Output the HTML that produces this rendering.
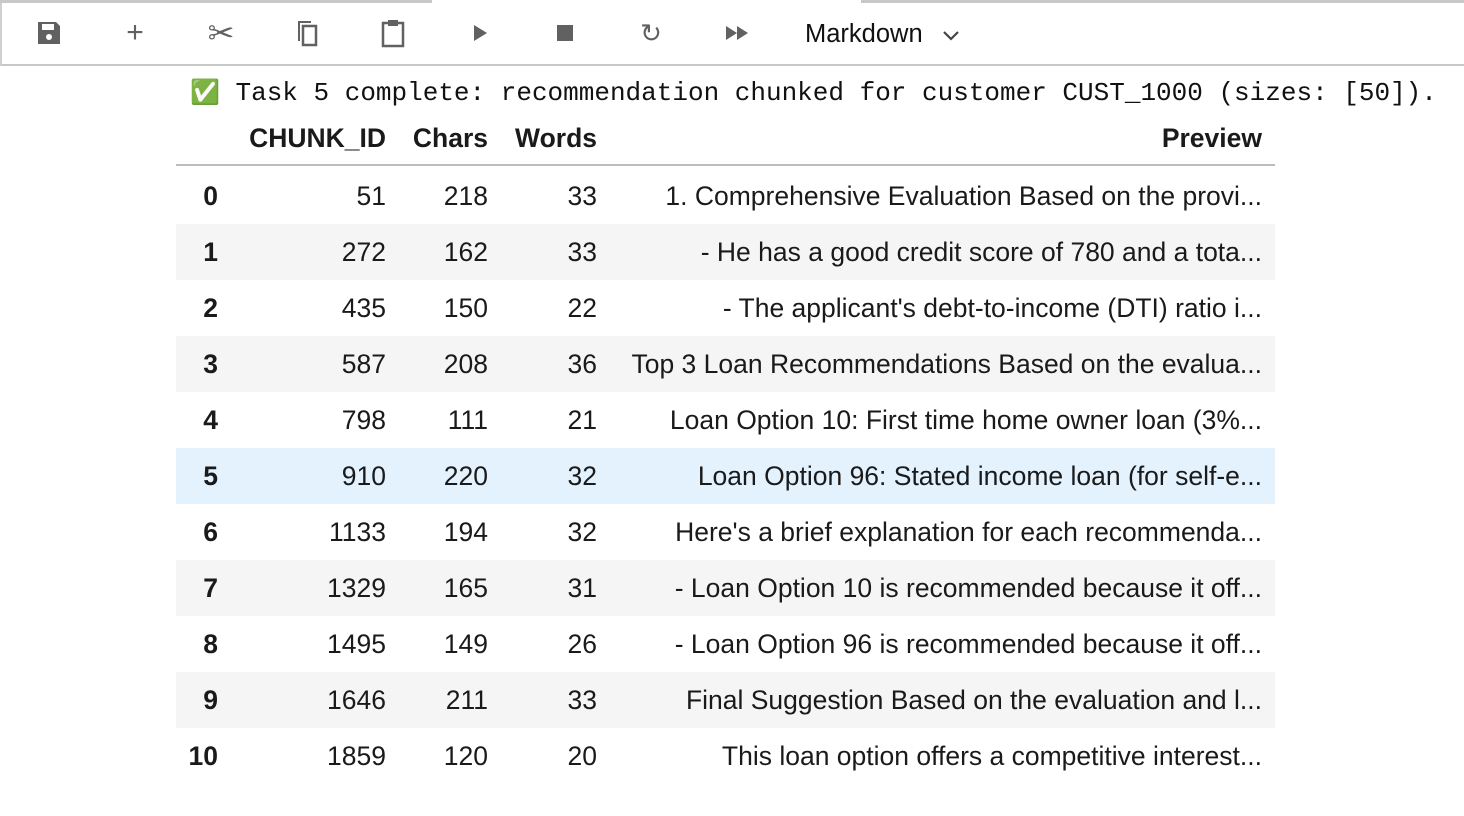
<!DOCTYPE html>
<html><head><meta charset="utf-8">
<style>
body{margin:0;width:1464px;height:816px;background:#fff;position:relative;overflow:hidden;font-family:"Liberation Sans",sans-serif;color:#1a1a1a}
.tb{position:absolute;left:0;top:0;width:1464px;height:66px;border-bottom:2px solid #c8c8c8;border-left:2px solid #d0d0d0;box-sizing:border-box}
.topline{position:absolute;top:0;height:3px;background:#c8c8c8}
.ic{position:absolute;top:18px;width:30px;height:30px;display:flex;align-items:center;justify-content:center;color:#616161;font-size:26px}
.out{position:absolute;left:190px;top:74px;font-family:"Liberation Mono",monospace;font-size:26px;white-space:pre;line-height:36px;color:#111}
.cell{position:absolute;font-size:26.5px;line-height:56px;white-space:nowrap;text-align:right}
.row{position:absolute;left:176px;width:1099px;height:56px}
.h{font-weight:bold}
</style></head><body>
<div class="tb"></div>
<div class="topline" style="left:0;width:432px"></div>
<div class="topline" style="left:861px;width:603px"></div>
<div class="ic" style="left:34px"><svg width="26" height="26" viewBox="0 0 26 26"><path d="M2 2h18l4 4v18H2z" fill="#616161"/><rect x="6" y="4" width="12" height="6" fill="#fff"/><circle cx="13" cy="17" r="3" fill="#fff"/></svg></div>
<div class="ic" style="left:120px;font-size:30px">+</div>
<div class="ic" style="left:206px;font-size:32px">✂</div>
<div class="ic" style="left:292px"><svg width="26" height="30" viewBox="0 0 26 30"><path d="M4 3h13v2H6v18H4z" fill="#616161"/><rect x="9" y="8" width="13" height="19" fill="none" stroke="#616161" stroke-width="2.5"/></svg></div>
<div class="ic" style="left:378px"><svg width="26" height="30" viewBox="0 0 26 30"><rect x="3" y="5" width="20" height="23" fill="none" stroke="#616161" stroke-width="2.5"/><rect x="8" y="2" width="10" height="6" fill="#616161"/></svg></div>
<div class="ic" style="left:465px"><svg width="18" height="20"><path d="M3 2l13 8-13 8z" fill="#616161"/></svg></div>
<div class="ic" style="left:550px"><svg width="18" height="18"><rect x="1" y="1" width="16" height="16" fill="#616161"/></svg></div>
<div class="ic" style="left:636px">↻</div>
<div class="ic" style="left:722px"><svg width="26" height="18"><path d="M2 2l11 7-11 7zM13 2l11 7-11 7z" fill="#616161"/></svg></div>
<div style="position:absolute;left:805px;top:17px;font-size:25.5px;line-height:34px;color:#111">Markdown <span style="display:inline-block;margin-left:12px"><svg width="18" height="12"><path d="M2 2l7 7 7-7" stroke="#444" stroke-width="2.2" fill="none"/></svg></span></div>

<div class="out"><span style="font-family:'DejaVu Sans',sans-serif;color:#3cb043;font-size:24px">✅</span> Task 5 complete: recommendation chunked for customer CUST_1000 (sizes: [50]).</div>

<div id="tbl"></div>
<script>
const idxs=[0,1,2,3,4,5,6,7,8,9,10];
const chunkIds=[51,272,435,587,798,910,1133,1329,1495,1646,1859];
const chars=[218,162,150,208,111,220,194,165,149,211,120];
const words=[33,33,22,36,21,32,32,31,26,33,20];
const previews=["1. Comprehensive Evaluation Based on the provi...","- He has a good credit score of 780 and a tota...","- The applicant's debt-to-income (DTI) ratio i...","Top 3 Loan Recommendations Based on the evalua...","Loan Option 10: First time home owner loan (3%...","Loan Option 96: Stated income loan (for self-e...","Here's a brief explanation for each recommenda...","- Loan Option 10 is recommended because it off...","- Loan Option 96 is recommended because it off...","Final Suggestion Based on the evaluation and l...","This loan option offers a competitive interest..."];
const headers=["CHUNK_ID","Chars","Words","Preview"];
const rights=[386,488,597,1262];
const tbl=document.getElementById('tbl');
function cell(txt,right,top,bold,name){
  const d=document.createElement('div');
  d.className='cell'+(bold?' h':'');
  d.style.right=(1464-right)+'px';d.style.top=top+'px';
  d.textContent=txt;
  
  
  tbl.appendChild(d);
}
headers.forEach((h,i)=>cell(h,rights[i],110,true,'header-'+h.toLowerCase()));
const hl=document.createElement('div');
hl.style.cssText='position:absolute;left:176px;top:164px;width:1099px;height:2px;background:#bdbdbd';


tbl.appendChild(hl);
idxs.forEach((r,i)=>{
  const top=168+i*56;
  const bg=document.createElement('div');
  bg.className='row';bg.style.top=top+'px';
  bg.style.background=r===5?'#e3f2fd':(i%2?'#f5f5f5':'#fff');
  
  
  tbl.appendChild(bg);
  cell(String(r),218,top,true,'row-index');
  cell(String(chunkIds[i]),rights[0],top,false,'chunk-id-cell');
  cell(String(chars[i]),rights[1],top,false,'chars-cell');
  cell(String(words[i]),rights[2],top,false,'words-cell');
  cell(previews[i],rights[3],top,false,'preview-cell');
});
</script>
</body></html>
